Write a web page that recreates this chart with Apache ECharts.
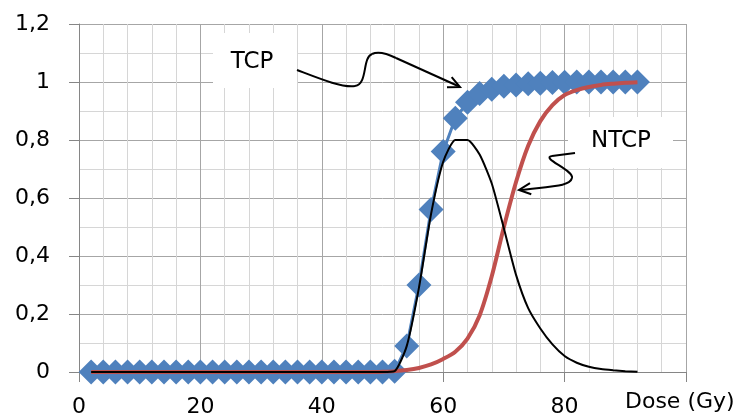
<!DOCTYPE html>
<html><head><meta charset="utf-8">
<script src="https://cdn.jsdelivr.net/npm/echarts@6/dist/echarts.min.js"></script>
<style>html,body{margin:0;padding:0;background:#fff}#c{width:739px;height:418px}</style>
</head><body><div id="c"></div>
<script>
// Dose (Gy)
const doses = [2,4,6,8,10,12,14,16,18,20,22,24,26,28,30,32,34,36,38,40,42,44,46,48,50,
               52,54,56,58,60,62,64,66,68,70,72,74,76,78,80,82,84,86,88,90,92];
// Tumour control probability (blue diamonds)
const tcp = [0,0,0,0,0,0,0,0,0,0,0,0,0,0,0,0,0,0,0,0,0,0,0,0,0,
             0.003,0.09,0.30,0.56,0.76,0.875,0.93,0.96,0.975,0.985,0.99,0.994,0.996,0.998,0.999,
             1,1,1,1,1,1];
// Normal tissue complication probability (red)
const ntcp = [0,0,0,0,0,0,0,0,0,0,0,0,0,0,0,0,0,0,0,0,0,0,0,0,
              0.001,0.003,0.007,0.014,0.026,0.045,0.07,0.115,0.195,0.33,0.5,0.655,0.78,0.865,0.92,0.955,
              0.972,0.983,0.99,0.994,0.997,0.999];
// Complication-free control (black)
const complicationFree = [0,0,0,0,0,0,0,0,0,0,0,0,0,0,0,0,0,0,0,0,0,0,0,0,0,
              0.003,0.09,0.29,0.545,0.725,0.80,0.80,0.75,0.65,0.495,0.335,0.22,0.15,0.095,0.055,
              0.032,0.018,0.01,0.006,0.003,0.001];
const xLabels = ['0','20','40','60','80',''];
const yLabels = ['0','0,2','0,4','0,6','0,8','1','1,2'];
const xTitle = 'Dose (Gy)';
const tcpLabel = 'TCP';
const ntcpLabel = 'NTCP';

const pairs = ys => doses.map((d, i) => [d, ys[i]]);
const FONT = 'DejaVu Sans';

function arrowHead(tx, ty, fx, fy, len, ang) {
  const a = Math.atan2(fy - ty, fx - tx);
  return [
    [tx + len * Math.cos(a + ang), ty + len * Math.sin(a + ang)],
    [tx, ty],
    [tx + len * Math.cos(a - ang), ty + len * Math.sin(a - ang)]
  ];
}
const stroke = {fill: 'none', stroke: '#000', lineWidth: 2};
function bez(x1, y1, cx1, cy1, cx2, cy2, x2, y2) {
  return {type: 'bezierCurve', z: 5, shape: {x1, y1, cpx1: cx1, cpy1: cy1, cpx2: cx2, cpy2: cy2, x2, y2}, style: stroke};
}
function seg(x1, y1, x2, y2) {
  return {type: 'line', z: 5, shape: {x1, y1, x2, y2}, style: stroke};
}

const chart = echarts.init(document.getElementById('c'));
chart.setOption({
  animation: false,
  backgroundColor: '#fff',
  grid: {left: 79, right: 53, top: 24, bottom: 46, containLabel: false},
  xAxis: {
    type: 'value', min: 0, max: 100, interval: 20,
    axisLine: {show: true, lineStyle: {color: '#868686', width: 1}},
    axisTick: {show: true, length: 10, lineStyle: {color: '#868686'}},
    axisLabel: {
      fontFamily: FONT, fontSize: 22, color: '#000', margin: 24,
      formatter: v => xLabels[Math.round(v / 20)] ?? ''
    },
    splitLine: {show: true, lineStyle: {color: '#a6a6a6', width: 1}},
    minorTick: {show: false, splitNumber: 5},
    minorSplitLine: {show: true, lineStyle: {color: '#d6d6d6', width: 1}}
  },
  yAxis: {
    type: 'value', min: 0, max: 1.2, interval: 0.2,
    axisLine: {show: true, lineStyle: {color: '#868686', width: 1}},
    axisTick: {show: true, length: 10, lineStyle: {color: '#868686'}},
    axisLabel: {
      fontFamily: FONT, fontSize: 22, color: '#000', margin: 29,
      formatter: v => yLabels[Math.round(v / 0.2)] ?? ''
    },
    splitLine: {show: true, lineStyle: {color: '#a6a6a6', width: 1}},
    minorTick: {show: false, splitNumber: 2},
    minorSplitLine: {show: true, lineStyle: {color: '#d6d6d6', width: 1}}
  },
  series: [
    {
      name: 'TCP', type: 'line', data: pairs(tcp), z: 2,
      symbol: 'diamond', symbolSize: [25, 25], showSymbol: true,
      itemStyle: {color: '#4F81BD'},
      lineStyle: {color: '#4F81BD', width: 3}
    },
    {
      name: 'NTCP', type: 'line', data: pairs(ntcp), z: 3,
      symbol: 'none', smooth: 0.3,
      lineStyle: {color: '#C0504D', width: 4}
    },
    {
      name: 'P+', type: 'line', data: pairs(complicationFree), z: 4,
      symbol: 'none', smooth: 0.2,
      lineStyle: {color: '#000', width: 2}
    }
  ],
  graphic: [
    {type: 'rect', z: 1, shape: {x: 213, y: 33, width: 84, height: 55}, style: {fill: '#fff'}},
    {type: 'text', z: 5, x: 252, y: 62, style: {text: tcpLabel, font: '23px "DejaVu Sans"', fill: '#000', align: 'center', verticalAlign: 'middle'}},
    {type: 'rect', z: 1, shape: {x: 568, y: 117, width: 105, height: 51}, style: {fill: '#fff'}},
    {type: 'text', z: 5, x: 621, y: 141, style: {text: ntcpLabel, font: '23px "DejaVu Sans"', fill: '#000', align: 'center', verticalAlign: 'middle'}},
    bez(297, 70, 318, 78, 342, 88, 355, 86),
    bez(355, 86, 368, 84, 362, 58, 372, 54),
    bez(372, 54, 378, 51, 386, 53, 396, 58),
    seg(396, 58, 458, 86),
    {type: 'polyline', z: 5, shape: {points: arrowHead(460, 87, 396, 58, 13, 0.45)}, style: stroke},
    seg(575, 153, 552, 156),
    bez(552, 156, 540, 158, 574, 170, 572, 178),
    bez(572, 178, 570, 186, 555, 186, 521, 190),
    {type: 'polyline', z: 5, shape: {points: arrowHead(519, 190, 545, 187, 13, 0.45)}, style: stroke},
    {type: 'text', z: 5, x: 625, y: 402, style: {text: xTitle, font: '22px "DejaVu Sans"', fill: '#000', align: 'left', verticalAlign: 'middle'}}
  ]
});
</script>
</body></html>
